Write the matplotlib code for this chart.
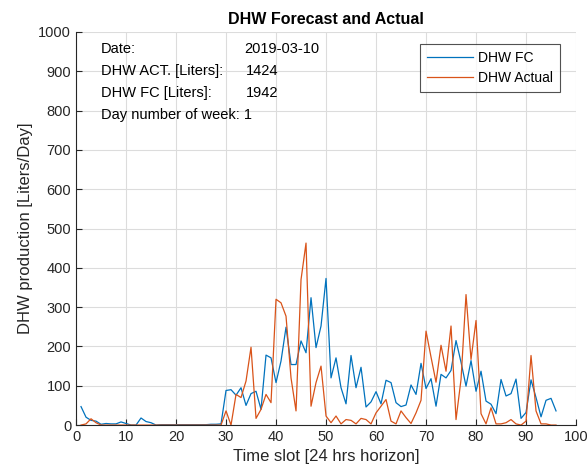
import numpy as np
import matplotlib
matplotlib.use("Agg")
import matplotlib.pyplot as plt

plt.rcParams['font.family'] = ['Liberation Sans', 'DejaVu Sans']

# 15-minute slots over one day
slots = np.arange(1, 97)

dhw_fc = [
    47, 20, 12, 10, 2, 4, 3, 3, 8, 4,
    0, 0, 18, 9, 6, 0, 1, 1, 1, 1,
    1, 1, 1, 1, 1, 1, 2, 2, 3, 88,
    90, 76, 95, 50, 80, 86, 40, 178, 171, 108,
    163, 249, 154, 154, 214, 184, 324, 197, 252, 373,
    120, 171, 95, 54, 177, 95, 147, 46, 59, 85,
    54, 114, 108, 57, 47, 51, 102, 78, 157, 93,
    118, 48, 129, 120, 139, 215, 160, 99, 164, 86,
    137, 61, 53, 29, 116, 74, 80, 117, 17, 32,
    115, 70, 21, 63, 68, 36,
]

dhw_actual = [
    0, 3, 16, 6, 0, 0, 0, 0, 0, 0,
    0, 0, 0, 0, 0, 0, 0, 0, 0, 0,
    0, 0, 0, 0, 0, 0, 0, 0, 0, 36,
    0, 78, 70, 112, 198, 17, 40, 78, 57, 320,
    311, 277, 120, 36, 370, 463, 48, 108, 150, 23,
    6, 23, 3, 14, 12, 3, 17, 14, 3, 31,
    48, 65, 10, 3, 36, 19, 4, 31, 63, 239,
    173, 109, 203, 137, 252, 14, 116, 332, 167, 266,
    29, 3, 44, 3, 3, 6, 14, 3, 0, 10,
    177, 36, 3, 3, 0, 0,
]

info_labels = ["Date:", "DHW ACT. [Liters]:", "DHW FC [Liters]:", "Day number of week: 1"]
info_values = ["2019-03-10", "1424", "1942", ""]

fig = plt.figure(figsize=(5.87, 4.76), dpi=100)
ax = fig.add_axes([0.1295, 0.107, 0.8518, 0.8258])

ax.plot(slots, dhw_fc, color='#0072BD', lw=0.9, label='DHW FC')
ax.plot(slots, dhw_actual, color='#D95319', lw=0.9, label='DHW Actual')

ax.set_xlim(0, 100)
ax.set_ylim(0, 1000)
ax.set_xticks(np.arange(0, 101, 10))
ax.set_yticks(np.arange(0, 1001, 100))
ax.grid(True, color='#dcdcdc', lw=0.8)
ax.set_axisbelow(True)

for side in ['top', 'right']:
    ax.spines[side].set_visible(False)
for side in ['left', 'bottom']:
    ax.spines[side].set_color('#262626')
    ax.spines[side].set_linewidth(0.8)
ax.tick_params(direction='in', length=4, colors='#262626', labelsize=10.5)

ax.set_title('DHW Forecast and Actual', fontsize=11.5, fontweight='bold', color='black', pad=6)
ax.set_xlabel('Time slot [24 hrs horizon]', fontsize=12, color='#262626')
ax.set_ylabel('DHW production [Liters/Day]', fontsize=12, color='#262626')

y0 = 957
for i, (lab, val) in enumerate(zip(info_labels, info_values)):
    yy = y0 - i * 56
    ax.text(5, yy, lab, fontsize=10.5, va='center', ha='left', color='black')
    if val:
        ax.text(33.6 if i == 0 else 34, yy, val, fontsize=10.5, va='center', ha='left', color='black')

leg = ax.legend(loc='upper right', bbox_to_anchor=(0.968, 0.97), fontsize=10,
                frameon=True, fancybox=False, borderaxespad=0, handlelength=3.3,
                handletextpad=0.35, labelspacing=0.45, borderpad=0.5)
leg.get_frame().set_edgecolor('#262626')
leg.get_frame().set_linewidth(0.8)

fig.savefig('out.png', dpi=100)
